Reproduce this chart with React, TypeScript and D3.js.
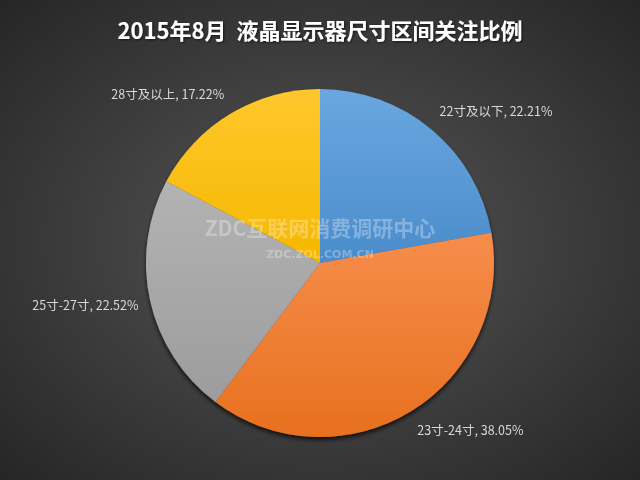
import React from "react";
import * as d3 from "d3";

const categories = ["22寸及以下", "23寸-24寸", "25寸-27寸", "28寸及以上"];
const values = [22.21, 38.05, 22.52, 17.22];
const labels = ["22.21%", "38.05%", "22.52%", "17.22%"];
const colorsTop = ["#6aa7e0", "#f68d4c", "#b3b3b3", "#ffc72c"];
const colorsBottom = ["#4a8ccb", "#e8701f", "#9c9c9c", "#f5b800"];
const title = "2015年8月  液晶显示器尺寸区间关注比例";
const watermark = "ZDC互联网消费调研中心";
const watermarkUrl = "ZDC.ZOL.COM.CN";

export default function App() {
  const W = 640, H = 480;
  const cx = 320, cy = 263, R = 174;
  const pie = d3.pie<number>().sort(null).value((d) => d)(values);
  const arc = d3.arc<d3.PieArcDatum<number>>().innerRadius(0).outerRadius(R);
  const font = "'Noto Sans CJK SC', 'Noto Sans', sans-serif";

  return (
    <svg width={W} height={H} style={{ position: "fixed", left: 0, top: 0 }} fontFamily={font}>
      <defs>
        <radialGradient id="bg" cx="50%" cy="50%" r="70%">
          <stop offset="0%" stopColor="#575757" />
          <stop offset="100%" stopColor="#262626" />
        </radialGradient>
        {values.map((_, i) => (
          <linearGradient key={i} id={`g${i}`} x1="0" y1="0" x2="0" y2="1">
            <stop offset="0%" stopColor={colorsTop[i]} />
            <stop offset="100%" stopColor={colorsBottom[i]} />
          </linearGradient>
        ))}
        <filter id="shadow" x="-20%" y="-20%" width="140%" height="140%">
          <feGaussianBlur in="SourceAlpha" stdDeviation="2" />
          <feOffset dx="0" dy="3" result="b" />
          <feComponentTransfer><feFuncA type="linear" slope="0.7" /></feComponentTransfer>
          <feMerge>
            <feMergeNode />
            <feMergeNode in="SourceGraphic" />
          </feMerge>
        </filter>
        <filter id="tshadow">
          <feDropShadow dx="1" dy="1" stdDeviation="1" floodColor="#000" floodOpacity="0.6" />
        </filter>
      </defs>
      <rect width={W} height={H} fill="url(#bg)" />
      <text x={W / 2} y={39} textAnchor="middle" fill="#ffffff" fontSize={22} fontWeight="bold" filter="url(#tshadow)" style={{ whiteSpace: "pre" }}>
        {title}
      </text>
      <g transform={`translate(${cx},${cy})`}>
        <g filter="url(#shadow)">
          {pie.map((p, i) => (
            <path key={i} d={arc(p) || ""} fill={`url(#g${i})`} />
          ))}
        </g>
        {pie.map((p, i) => {
          const a = (p.startAngle + p.endAngle) / 2;
          const r = R + 12;
          const x = Math.sin(a) * r;
          const y = -Math.cos(a) * r - Math.cos(a) * 11;
          const anchor = Math.sin(a) >= 0 ? "start" : "end";
          return (
            <text key={i} x={x} y={y} dy="0.35em" textAnchor={anchor} fill="#d9d9d9" fontSize={12.5}>
              {`${categories[i]}, ${labels[i]}`}
            </text>
          );
        })}
      </g>
      <text x={320} y={236} textAnchor="middle" fill="#ffffff" fillOpacity={0.3} fontSize={21} fontWeight="bold" fontFamily="'Noto Sans CJK SC', sans-serif">
        {watermark}
      </text>
      <text x={320} y={258} textAnchor="middle" fill="#ffffff" fillOpacity={0.3} fontSize={11} fontWeight="bold" fontFamily="'DejaVu Sans', sans-serif">
        {watermarkUrl}
      </text>
    </svg>
  );
}
